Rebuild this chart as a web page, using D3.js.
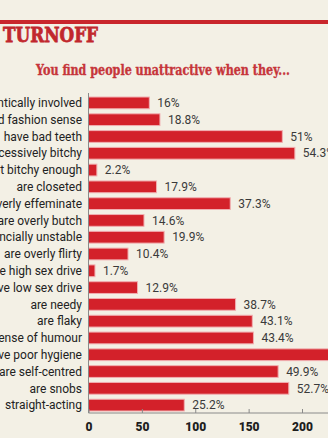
<!DOCTYPE html>
<html>
<head>
<meta charset="utf-8">
<script src="https://cdn.jsdelivr.net/npm/d3@7"></script>
<style>
  html, body { margin: 0; padding: 0; background: #f3f0e5; overflow: hidden; }
  svg { display: block; }
</style>
</head>
<body>
<div id="chart"></div>
<script>
// Survey: what people find unattractive in a partner
const categories = [
  "are already romantically involved",
  "have bad fashion sense",
  "have bad teeth",
  "are excessively bitchy",
  "are not bitchy enough",
  "are closeted",
  "are overly effeminate",
  "are overly butch",
  "are financially unstable",
  "are overly flirty",
  "have high sex drive",
  "have low sex drive",
  "are needy",
  "are flaky",
  "have no sense of humour",
  "have poor hygiene",
  "are self-centred",
  "are snobs",
  "straight-acting"
];
// share of respondents (%)
const percents = [16, 18.8, 51, 54.3, 2.2, 17.9, 37.3, 14.6, 19.9, 10.4, 1.7, 12.9, 38.7, 43.1, 43.4, 66, 49.9, 52.7, 25.2];
const respondents = 356;
const tickValues = [0, 50, 100, 150, 200];

const W = 328, H = 438;
const svg = d3.select("#chart").append("svg").attr("width", W).attr("height", H);

svg.append("rect").attr("width", W).attr("height", H).attr("fill", "#f3f0e5");

// header rule
svg.append("rect").attr("x", 0).attr("y", 20).attr("width", W).attr("height", 4).attr("fill", "#c9262c");

svg.append("text")
  .attr("x", 3).attr("y", 42)
  .attr("font-family", "DejaVu Serif")
  .attr("font-weight", "bold")
  .attr("font-size", 21)
  .attr("textLength", 95).attr("lengthAdjust", "spacingAndGlyphs")
  .attr("fill", "#c1272d")
  .attr("stroke", "#c1272d").attr("stroke-width", 0.8)
  .text("TURNOFF");

svg.append("text")
  .attr("x", 36).attr("y", 75)
  .attr("font-family", "DejaVu Serif")
  .attr("font-weight", "bold")
  .attr("font-size", 14)
  .attr("textLength", 254).attr("lengthAdjust", "spacingAndGlyphs")
  .attr("fill", "#c6353a")
  .attr("stroke", "#c6353a").attr("stroke-width", 0.35)
  .text("You find people unattractive when they...");

const x0 = 88.5;
const x = d3.scaleLinear().domain([0, 200]).range([x0, 302]);
const y = d3.scaleBand().domain(categories).range([95, 413]).paddingInner(0.3).paddingOuter(0.12);

const rows = categories.map((c, i) => ({ c, p: percents[i], n: percents[i] / 100 * respondents }));

// bars
svg.append("g").selectAll("rect").data(rows).join("rect")
  .attr("x", x(0))
  .attr("y", d => y(d.c))
  .attr("width", d => x(d.n) - x(0))
  .attr("height", y.bandwidth())
  .attr("fill", "#d3212a")
  .attr("stroke", "#f1aeb0")
  .attr("stroke-width", 1);

// category labels
svg.append("g").selectAll("text").data(rows).join("text")
  .attr("x", 82)
  .attr("y", d => y(d.c) + y.bandwidth() / 2)
  .attr("dy", "0.35em")
  .attr("text-anchor", "end")
  .attr("font-family", "Roboto")
  .attr("font-size", 12)
  .attr("fill", "#222")
  .text(d => d.c);

// value labels
svg.append("g").selectAll("text").data(rows).join("text")
  .attr("x", d => x(d.n) + 8)
  .attr("y", d => y(d.c) + y.bandwidth() / 2)
  .attr("dy", "0.35em")
  .attr("font-family", "Roboto")
  .attr("font-size", 12)
  .attr("fill", "#3a3a3a")
  .text(d => d3.format("~g")(d.p) + "%");

// axes
const axisY = 413;
const xAxis = svg.append("g").attr("transform", `translate(0,${axisY})`)
  .call(d3.axisBottom(x).tickValues(tickValues).tickSize(-4).tickPadding(9).tickFormat(d3.format("d")));
xAxis.select(".domain").attr("stroke", "#8a8a8a").attr("d", `M${x0},0H${W}`);
xAxis.selectAll(".tick line").attr("stroke", "#8a8a8a");
xAxis.selectAll(".tick text")
  .attr("font-family", "Roboto")
  .attr("font-weight", "900")
  .attr("font-size", 12)
  .attr("fill", "#1e1e1e");

svg.append("line")
  .attr("x1", x0).attr("x2", x0).attr("y1", 93).attr("y2", axisY)
  .attr("stroke", "#8a8a8a").attr("stroke-width", 1);
</script>
</body>
</html>
